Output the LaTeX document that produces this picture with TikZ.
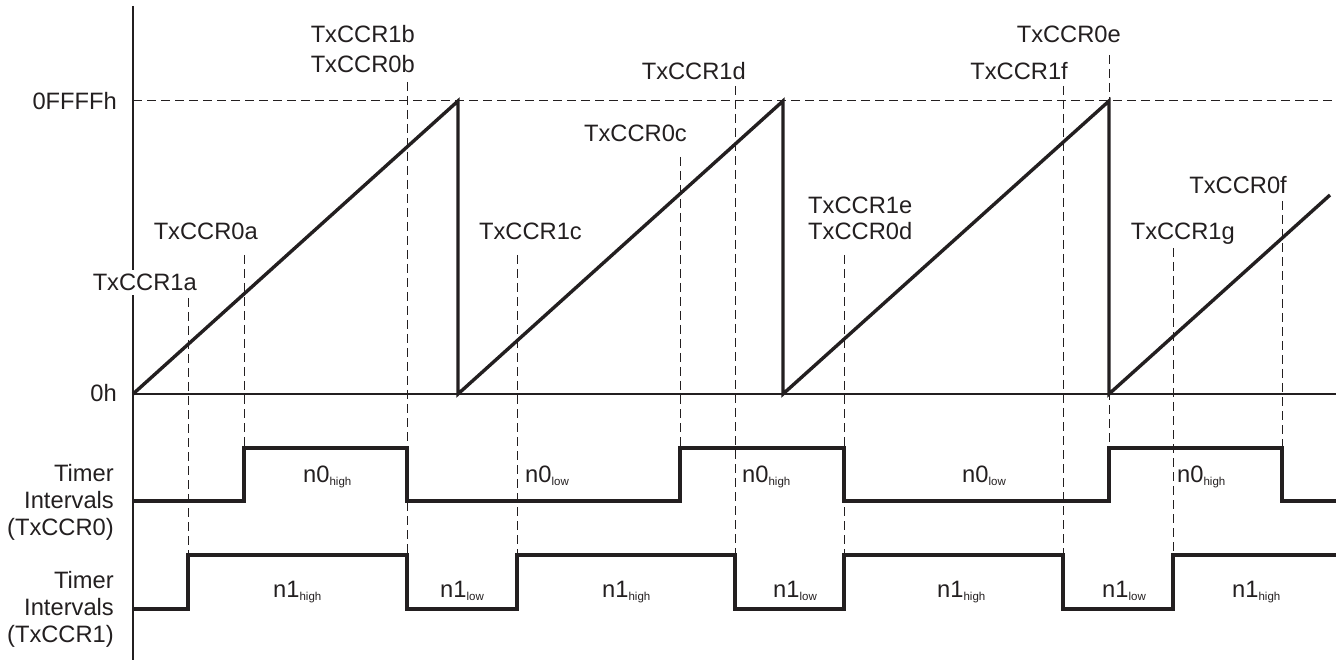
\documentclass[tikz,border=0pt]{standalone}
\usepackage{fontspec}
\setmainfont{Liberation Sans}
\definecolor{ink}{RGB}{35,31,32}
\newcommand{\mysub}[1]{\raisebox{-3.5pt}{\fontsize{11.5}{12}\selectfont #1}}
\begin{document}
\begin{tikzpicture}[x=1pt,y=-1pt,
  thickline/.style={draw=ink,line width=3.4pt},
  thinline/.style={draw=ink,line width=1.3pt},
  dashline/.style={draw=ink,line width=1pt,dash pattern=on 9pt off 5pt},
  lbl/.style={text=ink,inner sep=0pt,font=\fontsize{23.7}{27}\selectfont},
  lblr/.style={lbl,anchor=base east},
  lbll/.style={lbl,anchor=base west}]
\useasboundingbox (0,0) rectangle (1342,660);
% coordinates
\coordinate (axT) at (133,6);
\coordinate (axB) at (133,660);
\coordinate (o) at (133,394);
\coordinate (zE) at (1336,394);
\coordinate (fS) at (133,101);
\coordinate (fE) at (1336,101);
\coordinate (p1) at (458,101); \coordinate (b1) at (458,394);
\coordinate (p2) at (783,101); \coordinate (b2) at (783,394);
\coordinate (p3) at (1109,101); \coordinate (b3) at (1109,394);
\coordinate (rE) at (1330,195);
% dashed verticals (top, bottom)
\foreach \nm/\xx/\yt/\yb in {d1a/188/298/555, d0a/244/255/448, d1b/407/82/555,
  d1c/517/255/555, d0c/680/157/448, d1d/735/86/555, d1e/844/255/555,
  d1f/1063/86/555, d0e/1109/55/448, d1g/1173/248/555, d0f/1282/201/448}{
  \coordinate (\nm t) at (\xx,\yt);
  \coordinate (\nm b) at (\xx,\yb);
  \draw[dashline] (\nm t) -- (\nm b);
}
\draw[dashline] (fS) -- (fE);
% axes
\draw[thinline] (axT) -- (axB);
\draw[thinline] (o) -- (zE);
% sawtooth
\draw[thickline] (o) -- (p1) -- (b1) -- (p2) -- (b2) -- (p3) -- (b3) -- (rE);
% TxCCR0 intervals
\coordinate (c0s) at (133,501);
\coordinate (c0e) at (1336,501);
\draw[thickline] (c0s) -- (244,501) -- (244,448) -- (407,448) -- (407,501)
  -- (680,501) -- (680,448) -- (844,448) -- (844,501) -- (1109,501)
  -- (1109,448) -- (1282,448) -- (1282,501) -- (c0e);
% TxCCR1 intervals
\coordinate (c1s) at (133,609);
\coordinate (c1e) at (1336,555);
\draw[thickline] (c1s) -- (188,609) -- (188,555) -- (407,555) -- (407,609)
  -- (517,609) -- (517,555) -- (735,555) -- (735,609) -- (844,609)
  -- (844,555) -- (1063,555) -- (1063,609) -- (1173,609) -- (1173,555) -- (c1e);
% axis labels
\node[lblr] (lF) at (117,109.5) {0FFFFh};
\node[lblr] (l0) at (117,402) {0h};
\node[lblr] (t0a) at (114,481) {Timer};
\node[lblr] (t0b) at (114,508) {Intervals};
\node[lblr] (t0c) at (114,535) {(TxCCR0)};
\node[lblr] (t1a) at (114,588) {Timer};
\node[lblr] (t1b) at (114,615) {Intervals};
\node[lblr] (t1c) at (114,642) {(TxCCR1)};
% compare labels
\node[lblr,fill=white,inner ysep=4pt] (L1a) at (197,291) {TxCCR1a};
\node[lblr] (L0a) at (258,240) {TxCCR0a};
\node[lblr] (L1b) at (415,43) {TxCCR1b};
\node[lblr] (L0b) at (415,73) {TxCCR0b};
\node[lblr] (L1c) at (582,239.5) {TxCCR1c};
\node[lblr] (L0c) at (687,141.5) {TxCCR0c};
\node[lblr] (L1d) at (746,80) {TxCCR1d};
\node[lbll] (L1e) at (808,214) {TxCCR1e};
\node[lbll] (L0d) at (808,240) {TxCCR0d};
\node[lblr] (L1f) at (1068,80) {TxCCR1f};
\node[lblr] (L0e) at (1121,43) {TxCCR0e};
\node[lblr] (L1g) at (1235,240) {TxCCR1g};
\node[lblr] (L0f) at (1287,194) {TxCCR0f};
% interval labels
\node[lbll] (n0h1) at (303,482) {n0\mysub{high}};
\node[lbll] (n0l1) at (525,482) {n0\mysub{low}};
\node[lbll] (n0h2) at (742,482) {n0\mysub{high}};
\node[lbll] (n0l2) at (962,482) {n0\mysub{low}};
\node[lbll] (n0h3) at (1177,482) {n0\mysub{high}};
\node[lbll] (n1h1) at (273,597) {n1\mysub{high}};
\node[lbll] (n1l1) at (440,597) {n1\mysub{low}};
\node[lbll] (n1h2) at (602,597) {n1\mysub{high}};
\node[lbll] (n1l2) at (773,597) {n1\mysub{low}};
\node[lbll] (n1h3) at (937,597) {n1\mysub{high}};
\node[lbll] (n1l3) at (1102,597) {n1\mysub{low}};
\node[lbll] (n1h4) at (1232,597) {n1\mysub{high}};
\end{tikzpicture}
\end{document}
